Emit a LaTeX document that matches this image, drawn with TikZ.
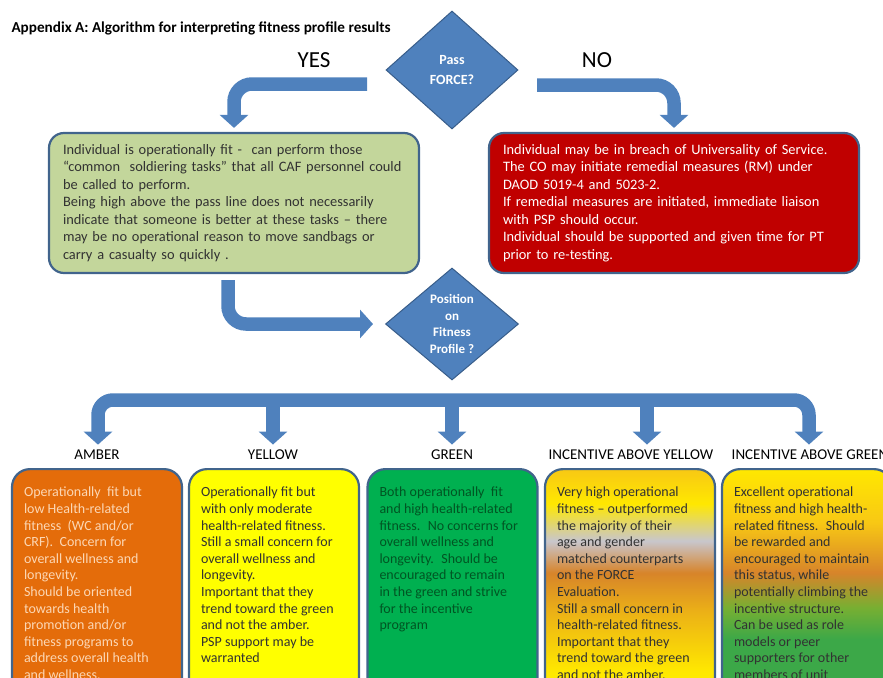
\documentclass[tikz,border=0pt]{standalone}
\usepackage{fontspec}
\setmainfont{Carlito}
\usepackage{tikz}
\usetikzlibrary{shapes.geometric,arrows.meta,positioning}
\definecolor{flowblue}{RGB}{79,129,189}
\definecolor{flowedge}{RGB}{56,93,138}
\definecolor{boxline}{RGB}{65,100,140}
\definecolor{fitgreen}{RGB}{195,214,155}
\definecolor{breachred}{RGB}{192,0,0}
\definecolor{amberfill}{RGB}{228,108,10}
\definecolor{ambertext}{RGB}{252,215,180}
\definecolor{yellowfill}{RGB}{255,255,0}
\definecolor{greenfill}{RGB}{0,176,80}
\definecolor{greentext}{RGB}{0,85,35}
\definecolor{darktext}{RGB}{50,50,50}
\definecolor{incgold}{RGB}{248,200,20}
\definecolor{incyel}{RGB}{255,232,0}
\definecolor{incsilver}{RGB}{200,198,205}
\definecolor{incorange}{RGB}{215,132,42}
\definecolor{incmid}{RGB}{236,178,22}
\definecolor{inclime}{RGB}{120,175,50}
\definecolor{incleaf}{RGB}{60,168,72}
\pgfdeclareverticalshading{incyellow}{100bp}{color(0bp)=(yellowfill); color(25bp)=(yellowfill); color(37bp)=(incyel); color(48bp)=(incmid); color(55.5bp)=(incorange); color(61.5bp)=(incsilver); color(68.5bp)=(incyel); color(75bp)=(incgold); color(100bp)=(incgold)}
\pgfdeclareverticalshading{incgreen}{100bp}{color(0bp)=(incleaf); color(25bp)=(incleaf); color(43bp)=(incleaf); color(49bp)=(inclime); color(55.5bp)=(incorange); color(65bp)=(incgold); color(75bp)=(incyel); color(100bp)=(incyel)}
\newcommand{\paneltext}[1]{\parbox[t][230pt][t]{146pt}{\raggedright #1}}

\begin{document}
\begin{tikzpicture}[
    x=1pt, y=-1pt,
    decision/.style={diamond, fill=flowblue, draw=flowedge, line width=1pt, text=white, align=center, inner sep=0pt, font=\bfseries\fontsize{13}{16.5}\selectfont},
    infobox/.style={rectangle, rounded corners=15pt, draw=boxline, line width=2.2pt, minimum width=370pt, minimum height=140pt, text width=342pt, align=left, font=\fontsize{14.4}{17.5}\selectfont},
    panel/.style={rectangle, rounded corners=18pt, draw=boxline, line width=2.2pt, anchor=north, minimum width=170pt, inner xsep=12pt, inner ysep=18pt, font=\fontsize{14}{16.6}\selectfont},
    level/.style={font=\fontsize{15}{17}\selectfont},
    answer/.style={font=\fontsize{23}{26}\selectfont},
    blockarrow/.style={draw=flowblue, line width=13.5pt, rounded corners=18pt, -{Triangle[width=28pt,length=13pt]}}
  ]
    \useasboundingbox (0,0) rectangle (883,677);
    \clip (0,0) rectangle (883,677);

    \node[anchor=west, font=\bfseries\fontsize{15.2}{18}\selectfont] (title) at (8,28) {Appendix A: Algorithm for interpreting fitness profile results};

    \node[decision, minimum width=132pt, minimum height=118pt, font=\bfseries\fontsize{14}{20}\selectfont] (pass) at (452,70) {Pass\\FORCE?};
    \node[answer] (yes) at (314,60) {YES};
    \node[answer] (no) at (597,60) {NO};

    \node[infobox, fill=fitgreen, text=darktext] (fitbox) at (234,203) {Individual is operationally fit -~ can perform those\\
“common~ soldiering tasks” that all CAF personnel could\\
be called to perform.\\
Being high above the pass line does not necessarily\\
indicate that someone is better at these tasks – there\\
may be no operational reason to move sandbags or\\
carry a casualty so quickly .};
    \node[infobox, fill=breachred, text=white] (redbox) at (674,203) {Individual may be in breach of Universality of Service.\\
The CO may initiate remedial measures (RM) under\\
DAOD 5019-4 and 5023-2.\\
If remedial measures are initiated, immediate liaison\\
with PSP should occur.\\
Individual should be supported and given time for PT\\
prior to re-testing.};

    \node[decision, aspect=1.19, minimum width=133pt, minimum height=112pt] (profile) at (452,324) {Position\\on\\Fitness\\Profile ?};

    \coordinate (yesstart) at (367,84);
    \coordinate (nostart) at (537,85);
    \coordinate (spine) at (452,400);

    \draw[blockarrow, shorten >=4pt] (yesstart) -| (fitbox.north);
    \draw[blockarrow, shorten >=4pt] (nostart) -| (redbox.north);
    \draw[blockarrow, shorten <=6pt, shorten >=12pt] ([xshift=-6pt]fitbox.south) |- (profile.west);

    % colour levels
    \node[level] (amberlab) at (97,455) {AMBER};
    \node[level] (yellowlab) at (273,455) {YELLOW};
    \node[level] (greenlab) at (452,455) {GREEN};
    \node[level] (incylab) at (631,455) {INCENTIVE ABOVE YELLOW};
    \node[level] (incglab) at (810,455) {INCENTIVE ABOVE GREEN};

    \draw[blockarrow, {Triangle[width=28pt,length=13pt]}-{Triangle[width=28pt,length=13pt]}, rounded corners=15pt, shorten <=2pt, shorten >=2pt] ([xshift=1pt]amberlab.north) |- (spine) -| ([xshift=-1pt]incglab.north);
    \draw[blockarrow, shorten >=2pt] (spine -| yellowlab.north) -- (yellowlab.north);
    \draw[blockarrow, shorten >=2pt] (spine) -- (greenlab.north);
    \draw[blockarrow, shorten >=2pt] ([xshift=16pt]incylab.north |- spine) -- ([xshift=16pt]incylab.north);

    \node[panel, fill=amberfill, text=ambertext] (amberbox) at (97,468) {\paneltext{Operationally~ fit but\\
low Health-related\\
fitness~ (WC and/or\\
CRF).~ Concern for\\
overall wellness and\\
longevity.\\
Should be oriented\\
towards health\\
promotion and/or\\
fitness programs to\\
address overall health\\
and wellness.}};
    \node[panel, fill=yellowfill, text=darktext] (yellowbox) at (274,468) {\paneltext{Operationally fit but\\
with only moderate\\
health-related fitness.\\
Still a small concern for\\
overall wellness and\\
longevity.\\
Important that they\\
trend toward the green\\
and not the amber.\\
PSP support may be\\
warranted}};
    \node[panel, fill=greenfill, text=greentext] (greenbox) at (452.5,468) {\paneltext{Both operationally~ fit\\
and high health-related\\
fitness.~ No concerns for\\
overall wellness and\\
longevity.~ Should be\\
encouraged to remain\\
in the green and strive\\
for the incentive\\
program}};
    \node[panel, shading=incyellow, text=darktext] (incybox) at (630,468) {\paneltext{Very high operational\\
fitness – outperformed\\
the majority of their\\
age and gender\\
matched counterparts\\
on the FORCE\\
Evaluation.\\
Still a small concern in\\
health-related fitness.\\
Important that they\\
trend toward the green\\
and not the amber.}};
    \node[panel, shading=incgreen, text=darktext] (incgbox) at (807,468) {\paneltext{Excellent operational\\
fitness and high health-\\
related fitness.~ Should\\
be rewarded and\\
encouraged to maintain\\
this status, while\\
potentially climbing the\\
incentive structure.\\
Can be used as role\\
models or peer\\
supporters for other\\
members of unit}};
\end{tikzpicture}
\end{document}
